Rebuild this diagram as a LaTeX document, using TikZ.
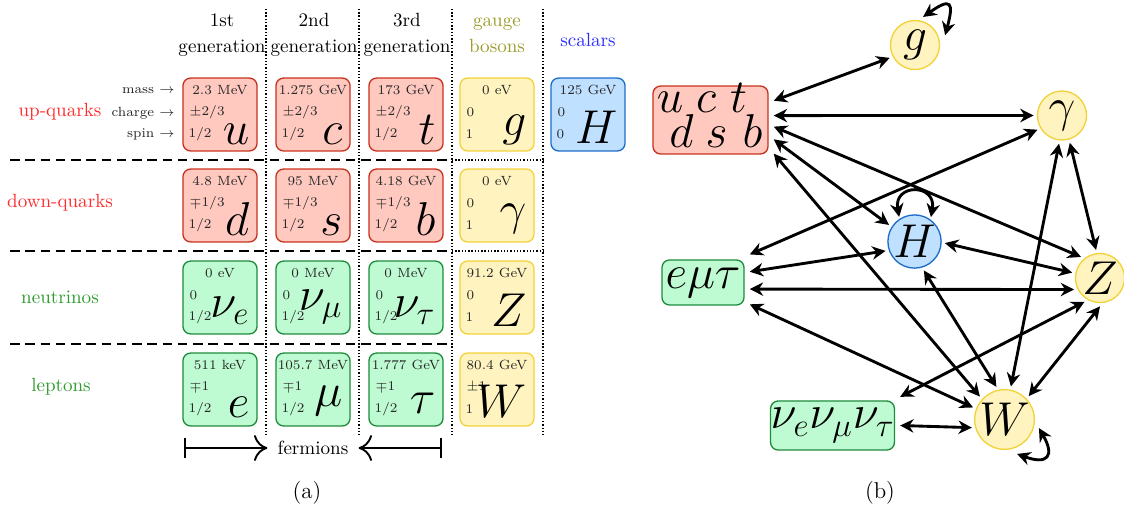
\documentclass[tikz,border=0pt]{standalone}
\usetikzlibrary{arrows.meta,calc}
\DeclareMathSizes{24.88}{24.88}{17.28}{12}
\definecolor{qfill}{HTML}{FFC9C0}
\definecolor{qdraw}{HTML}{C8321E}
\definecolor{lfill}{HTML}{BFFBD2}
\definecolor{ldraw}{HTML}{1E8C3C}
\definecolor{gfill}{HTML}{FFF4C0}
\definecolor{gdraw}{HTML}{F2D23A}
\definecolor{sfill}{HTML}{BFE0FF}
\definecolor{sdraw}{HTML}{1E6EC8}
\definecolor{redlab}{HTML}{FF2A2A}
\definecolor{greenlab}{HTML}{2E9B2E}
\definecolor{olivelab}{HTML}{9B9B2B}
\definecolor{bluelab}{HTML}{2B2BFF}
\tikzset{
  card/.style={draw, rectangle, rounded corners=4pt, line width=0.7pt, minimum width=38.8pt, minimum height=38.2pt, inner sep=0pt},
  qk/.style={fill=qfill, draw=qdraw},
  lp/.style={fill=lfill, draw=ldraw},
  gb/.style={fill=gfill, draw=gdraw},
  sc/.style={fill=sfill, draw=sdraw},
  masst/.style={font=\scriptsize, inner sep=0pt, text=black!85},
  chgt/.style={font=\scriptsize, inner sep=0pt, anchor=west, text=black!85},
  symt/.style={font=\Huge, inner sep=0pt, anchor=south east},
  sepdash/.style={dash pattern=on 5pt off 3pt, line width=0.7pt},
  sepdot/.style={dash pattern=on 0.7pt off 1pt, line width=0.7pt},
  gnode/.style={circle, draw, minimum size=25.7pt, inner sep=0pt, line width=0.7pt, font=\Huge, outer sep=2pt},
  gbox/.style={rectangle, draw, rounded corners=4pt, line width=0.7pt, inner sep=0pt, font=\Huge, outer sep=3pt},
  qlet/.style={font=\Huge, inner sep=0pt, anchor=base},
  edge/.style={line width=1.5pt, {Stealth[length=7pt,width=7pt]}-{Stealth[length=7pt,width=7pt]}},
  fermarrow/.style={line width=1pt, {Bar[width=10.5pt]}-{Computer Modern Rightarrow[width=13.6pt,length=7pt]}},
  hdr/.style={align=center, inner sep=0pt},
  proplab/.style={font=\scriptsize, anchor=east, inner sep=0pt, text=black!85}
}
\newcommand\pcard[9]{%
  \node[card,#4] (#1) at (#2,#3) {};
  \node[masst] (#1m) at ($(#1.north)+(0,13)$) {#5};
  \node[chgt] (#1c) at ($(#1.north west)+(7,35)$) {#6};
  \node[chgt] (#1s) at ($(#1.north west)+(6,57)$) {#7};
  \node[symt] (#1p) at ($(#1.south east)+(-8,#9)$) {$#8$};
}
\begin{document}
\begin{tikzpicture}[x=0.524pt,y=-0.524pt]
\useasboundingbox (0,0) rectangle (1124,512);
% ---------- (a) table ----------
\foreach \xx in {266,359,452,543} \draw[sepdot] (\xx,9) -- (\xx,435);
\foreach \yy in {160,251,344} \draw[sepdash] (10,\yy) -- (447,\yy);
\foreach \yy in {160,251} \draw[sepdot] (452,\yy) -- (543,\yy);

\node[hdr] (h1) at (222,35) {1st\\[1.5pt]generation};
\node[hdr] (h2) at (314,35) {2nd\\[1.5pt]generation};
\node[hdr] (h3) at (407,35) {3rd\\[1.5pt]generation};
\node[hdr, text=olivelab] (h4) at (497,35) {gauge\\[1.5pt]bosons};
\node[hdr, text=bluelab] (h5) at (588,40) {scalars};

\node[text=redlab] (r1) at (60,112) {up-quarks};
\node[text=redlab] (r2) at (60,203) {down-quarks};
\node[text=greenlab] (r3) at (60,297) {neutrinos};
\node[text=greenlab] (r4) at (61,387) {leptons};

\node[proplab] (pm) at (175,91) {mass $\rightarrow$};
\node[proplab] (pc) at (175,113) {charge $\rightarrow$};
\node[proplab] (ps) at (175,134) {spin $\rightarrow$};

\pcard{cu}{220}{114.5}{qk}{2.3 MeV}{$\pm2/3$}{1/2}{u}{-7}
\pcard{cc}{313}{114.5}{qk}{1.275 GeV}{$\pm2/3$}{1/2}{c}{-7}
\pcard{ct}{406}{114.5}{qk}{173 GeV}{$\pm2/3$}{1/2}{t}{-7}
\pcard{cg}{497}{114.5}{gb}{0 eV}{0}{1}{g}{-7}
\pcard{cH}{588}{114.5}{sc}{125 GeV}{0}{0}{H}{-8}

\pcard{cd}{220}{205.5}{qk}{4.8 MeV}{$\mp1/3$}{1/2}{d}{-7}
\pcard{cs}{313}{205.5}{qk}{95 MeV}{$\mp1/3$}{1/2}{s}{-7}
\pcard{cb}{406}{205.5}{qk}{4.18 GeV}{$\mp1/3$}{1/2}{b}{-7}
\pcard{cga}{497}{205.5}{gb}{0 eV}{0}{1}{\gamma}{-9}

\pcard{cne}{220}{297.5}{lp}{0 eV}{0}{1/2}{\nu_e}{-10}
\pcard{cnm}{313}{297.5}{lp}{0 MeV}{0}{1/2}{\nu_\mu}{-10}
\pcard{cnt}{406}{297.5}{lp}{0 MeV}{0}{1/2}{\nu_\tau}{-10}
\pcard{cZ}{497}{297.5}{gb}{91.2 GeV}{0}{1}{Z}{-8}

\pcard{ce}{220}{389.5}{lp}{511 keV}{$\mp1$}{1/2}{e}{-9}
\pcard{cmu}{313}{389.5}{lp}{105.7 MeV}{$\mp1$}{1/2}{\mu}{-11}
\pcard{cta}{406}{389.5}{lp}{1.777 GeV}{$\mp1$}{1/2}{\tau}{-13}
\pcard{cW}{497}{389.5}{gb}{80.4 GeV}{$\pm1$}{1}{W}{-9}

\node[inner xsep=5.2pt] (fer) at (313,448) {fermions};
\coordinate (fl) at (184,448);
\coordinate (fr) at (442,448);
\draw[fermarrow] (fl) -- (fer.west);
\draw[fermarrow] (fr) -- (fer.east);

\node[font=\large] (capa) at (307,493) {(a)};
\node[font=\large] (capb) at (880,493) {(b)};

% ---------- (b) graph ----------
\node[gnode, gb] (g) at (915,45) {$g$};
\node[gnode, gb] (ga) at (1062,115.5) {$\gamma$};
\node[gnode, sc] (H) at (914.5,241.5) {$H$};
\node[gnode, gb] (Z) at (1100,278) {$Z$};
\node[gnode, gb] (W) at (1004.5,419.5) {$W$};
\node[gbox, qk, minimum width=60.3pt, minimum height=35.6pt] (q) at (710.5,120) {};
\node[qlet] (qu) at (670,112) {$u$};
\node[qlet] (qc) at (706,112) {$c$};
\node[qlet] (qt) at (738.5,112) {$t$};
\node[qlet] (qd) at (681.5,147) {$d$};
\node[qlet] (qs) at (716.5,147) {$s$};
\node[qlet] (qb) at (752.5,147) {$b$};
\node[gbox, lp, minimum width=43pt, minimum height=23.6pt] (L) at (703,282.5) {$e\mu\tau$};
\node[gbox, lp, minimum width=62.4pt, minimum height=25.7pt] (N) at (832.5,425.5) {$\nu_e\nu_\mu\nu_\tau$};

\draw[edge] (q.17.5) -- (g.207);
\draw[edge] (q.4) -- (ga.180);
\draw[edge] (q.-6.6) -- (Z.132);
\draw[edge] (q.-17.8) -- (H.147);
\draw[edge] (q.-28.7) -- (W.137);
\draw[edge] (ga.210) -- (L.31);
\draw[edge] (ga.286) -- (Z.98);
\draw[edge] (ga.264) -- (W.79);
\draw[edge] (H.357) -- (Z.169);
\draw[edge] (H.198) -- (L.13);
\draw[edge] (H.288) -- (W.104);
\draw[edge] (L.-8) -- (Z.204);
\draw[edge] (L.-25) -- (W.159);
\draw[edge] (Z.237) -- (N.23);
\draw[edge] (Z.270) -- (W.44);
\draw[edge] (N.0) -- (W.194);

\draw[edge] ($(g.center)+(74:15.3pt)$) .. controls +(35:18pt) and +(75:18pt) .. ($(g.center)+(18:16.6pt)$);
\draw[edge] ($(H.center)+(122:15.2pt)$) .. controls +(100:18pt) and +(80:18pt) .. ($(H.center)+(56:15.4pt)$);
\draw[edge] ($(W.center)+(-14:18.6pt)$) .. controls +(-60:17pt) and +(-20:17pt) .. ($(W.center)+(-70:19.2pt)$);
\end{tikzpicture}
\end{document}
